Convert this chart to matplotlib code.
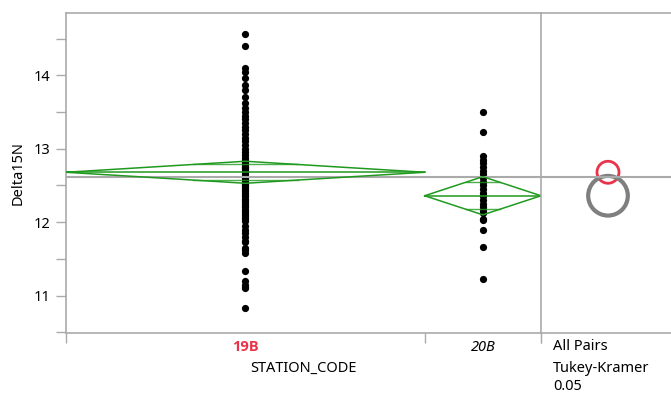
import matplotlib
matplotlib.use('Agg')
import matplotlib.pyplot as plt
from matplotlib.patches import Circle
import numpy as np

plt.rcParams['font.family'] = ['Noto Sans', 'DejaVu Sans']

# data
groups = ['19B', '20B']
vals_19b = [14.56, 14.40, 14.10, 14.05, 13.97, 13.87, 13.80, 13.70, 13.62, 13.55,
            13.50, 13.45, 13.40, 13.35, 13.30, 13.25, 13.20, 13.15, 13.10, 13.05,
            13.00, 12.96, 12.92, 12.88, 12.85, 12.82, 12.80, 12.77, 12.75, 12.74,
            12.72, 12.70, 12.68, 12.65, 12.62, 12.60, 12.58, 12.55, 12.52, 12.50,
            12.48, 12.45, 12.42, 12.40, 12.37, 12.35, 12.32, 12.30, 12.27, 12.25,
            12.22, 12.20, 12.17, 12.15, 12.12, 12.10, 12.07, 12.05, 12.02, 11.95,
            11.90, 11.85, 11.80, 11.75, 11.73, 11.65, 11.62, 11.58, 11.34, 11.20,
            11.15, 11.12, 11.10, 10.83]
vals_20b = [13.50, 13.23, 12.90, 12.85, 12.80, 12.75, 12.70, 12.65, 12.60, 12.55,
            12.50, 12.45, 12.40, 12.35, 12.30, 12.25, 12.20, 12.15, 12.12, 12.05,
            12.03, 11.89, 11.66, 11.22]
means = [12.68, 12.36]
ci_half = [0.15, 0.26]
circle_r = [0.15, 0.27]
grand_mean = 12.61

W, H = 671, 394
fig = plt.figure(figsize=(W / 100, H / 100), dpi=100)

x0, x1, xr, yt, yb = 66, 541, 671, 13, 333
ax = fig.add_axes([x0 / W, 1 - yb / H, (x1 - x0) / W, (yb - yt) / H])
ax2 = fig.add_axes([x1 / W, 1 - yb / H, (xr - x1) / W, (yb - yt) / H])

ylo, yhi = 10.49, 14.85
gray = '#aaaaaa'
green = '#1f9a1f'

# group widths proportional to counts
counts = np.array([len(vals_19b), len(vals_20b)])
edges = np.concatenate([[0], np.cumsum(counts)]) / counts.sum()
centers = (edges[:-1] + edges[1:]) / 2

for i, v in enumerate([vals_19b, vals_20b]):
    ax.scatter(np.full(len(v), centers[i]), v, s=27, color='black', zorder=3, linewidths=0)
    l, r, c, m, h = edges[i], edges[i + 1], centers[i], means[i], ci_half[i]
    ax.plot([l, c, r, c, l], [m, m + h, m, m - h, m], color=green, lw=1.1, zorder=4)
    ax.plot([l, r], [m, m], color=green, lw=1.1, zorder=4)
    d = h / np.sqrt(2)
    hw = (r - l) / 2 * (1 - d / h)
    for s in (1, -1):
        ax.plot([c - hw, c + hw], [m + s * d, m + s * d], color=green, lw=1.0,
                alpha=0.8, zorder=4)

ax.axhline(grand_mean, color=gray, lw=1.5, zorder=3.5)
ax.set_xlim(0, 1)
ax.set_ylim(ylo, yhi)
ax.set_yticks([11, 12, 13, 14])
ax.set_yticks([10.5, 11.5, 12.5, 13.5, 14.5], minor=True)
ax.set_xticks(edges)
ax.set_xticklabels([])
ax.tick_params(axis='both', which='both', direction='out', length=7, color=gray,
               labelsize=10.5, width=1)
ax.tick_params(axis='y', pad=4)
for sp in ['top', 'bottom', 'left']:
    ax.spines[sp].set_color(gray)
    ax.spines[sp].set_linewidth(1.2)
ax.spines['right'].set_visible(False)
ax.set_ylabel('Delta15N', fontsize=10.5, labelpad=6)

# group labels
ax.text(centers[0], -0.045, groups[0], transform=ax.get_xaxis_transform(),
        ha='center', va='center', fontsize=10.5, fontweight='bold', color='#e8334a',
        family=['Open Sans', 'Liberation Sans', 'DejaVu Sans'])
ax.text(centers[1], -0.045, groups[1], transform=ax.get_xaxis_transform(),
        ha='center', va='center', fontsize=10.5, fontstyle='italic')
ax.text(0.5, -0.11, 'STATION_CODE', transform=ax.transAxes,
        ha='center', va='center', fontsize=10.5)

# comparison circles panel, x scaled to match y per pixel
ypp = (yhi - ylo) / (yb - yt)
ax2.set_xlim(0, (xr - x1) * ypp)
ax2.set_ylim(ylo, yhi)
ax2.axhline(grand_mean, color=gray, lw=1.5, zorder=2)
cx = (608 - x1) * ypp
ax2.add_patch(Circle((cx, means[0]), circle_r[0], fill=False, ec='#e8334a', lw=2))
ax2.add_patch(Circle((cx, means[1]), circle_r[1], fill=False, ec='#7f7f7f', lw=3))
ax2.set_xticks([0])
ax2.set_xticklabels([])
ax2.set_yticks([])
ax2.tick_params(axis='x', direction='out', length=7, color=gray)
for sp in ['top', 'bottom', 'left']:
    ax2.spines[sp].set_color(gray)
    ax2.spines[sp].set_linewidth(1.2)
ax2.spines['right'].set_visible(False)

for txt, yy in [('All Pairs', 346), ('Tukey-Kramer', 368), ('0.05', 387)]:
    fig.text(553 / W, 1 - yy / H, txt, ha='left', va='center', fontsize=10.5)

fig.savefig('out.png', dpi=100)
